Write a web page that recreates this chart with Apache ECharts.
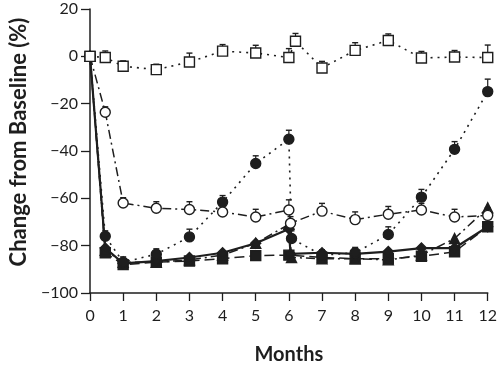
<!DOCTYPE html>
<html><head><meta charset="utf-8">
<script src="https://cdn.jsdelivr.net/npm/echarts@6/dist/echarts.min.js"></script>
<style>html,body{margin:0;padding:0;background:#fff}#c{width:500px;height:370px}</style>
</head><body><div id="c"></div>
<script>
// x positions (months) and values (% change from baseline)
const xOpenSq = [0,0.46,1,2,3,4,5,6,6.2,7,8,9,10,11,12];
const openSquares = [0,-0.5,-4.2,-5.6,-2.4,2.2,1.4,-0.5,6.4,-4.9,2.5,6.7,-0.7,-0.3,-0.5];
const openSquaresErr = [0,1.5,1,1,2.5,1.5,2,2.5,2,1.5,2,1.5,1.5,1.5,4];

const xOpenCi = [0,0.46,1,2,3,4,5,6,6.05,7,8,9,10,11,12];
const openCircles = [0,-23.6,-62,-64.2,-64.7,-65.8,-67.9,-64.9,-70.5,-65.4,-69,-66.7,-64.9,-67.9,-67.2];
const openCirclesErr = [0,1,1,1.5,2,1.5,2,3,1.5,2,2,2,1.5,2,2];

const xFillCi = [0,0.46,1,2,3,4,5,6,6.08,7,8,9,10,11,12];
const filledCircles = [0,-76,-87,-83.6,-76.3,-61.6,-45.3,-35,-77,-84,-83,-75.3,-59.5,-39.3,-14.9];
const filledCirclesErr = [0,1,1,1,2,1.5,2,2.5,2,1,1,2,2,2,4];

const xDiam = [0,0.46,1,2,3,4,5,6,6.05,7,8,9,10,11,12];
const diamonds = [0,-81,-87.5,-86.5,-85,-83,-79,-73,-83.5,-83,-83.5,-82.5,-81,-81,-72];

const xFillSq = [0,0.46,1,2,3,4,5,6,7,8,9,10,11,12];
const filledSquares = [0,-83,-88,-87,-86.5,-85.5,-84.2,-84,-85,-85.5,-85.5,-84.5,-82.6,-72];

const xTri = [0,0.46,1,2,3,4,5,6,6.08,7,8,9,10,11,12];
const triangles = [0,-82,-87,-87,-86,-84,-79,-71,-85,-85.5,-85.5,-86,-84,-77,-64];

const xTicks = [0,1,2,3,4,5,6,7,8,9,10,11,12];
const yTicks = [-100,-80,-60,-40,-20,0,20];

const pair = (xs, ys) => xs.map((x,i)=>[x, ys[i]]);
const INK = '#1e1e1e';
const FONT = 'Lato, "Open Sans", sans-serif';

function lineSeries(xs, ys, symbol, fill, size, dash, width, z) {
  return {
    type: 'line', data: pair(xs, ys), symbol: symbol, symbolSize: size,
    z: z, animation: false,
    lineStyle: { color: INK, width: width, type: dash },
    itemStyle: { color: fill, borderColor: INK, borderWidth: 1.4 },
    emphasis: { disabled: true }
  };
}
function errSeries(xs, ys, errs, half) {
  return {
    type: 'custom', z: 1, animation: false,
    data: xs.map((x,i)=>[x, ys[i], ys[i]+errs[i]]),
    renderItem: function (params, api) {
      const p0 = api.coord([api.value(0), api.value(1)]);
      const p1 = api.coord([api.value(0), api.value(2)]);
      if (api.value(2) === api.value(1)) return;
      const top = p1[1] - 3;
      return { type: 'group', children: [
        { type: 'line', shape: { x1: p0[0], y1: p0[1], x2: p0[0], y2: top }, style: { stroke: INK, lineWidth: 1.2 } },
        { type: 'line', shape: { x1: p0[0]-half, y1: top, x2: p0[0]+half, y2: top }, style: { stroke: INK, lineWidth: 1.4 } }
      ]};
    }
  };
}

const chart = echarts.init(document.getElementById('c'), null, { renderer: 'canvas' });
chart.setOption({
  backgroundColor: '#fff',
  grid: { left: 83, right: 10, top: 9, bottom: 75 },
  xAxis: {
    type: 'value', min: 0, max: 12, interval: 1,
    name: 'Months', nameLocation: 'middle', nameGap: 52,
    nameTextStyle: { fontFamily: FONT, fontSize: 20, fontWeight: 'bold', color: INK },
    axisLine: { show: true, onZero: false, lineStyle: { color: INK, width: 1.5 } },
    axisTick: { show: true, length: 8, lineStyle: { color: INK, width: 1.3 } },
    axisLabel: { margin: 15, fontFamily: FONT, fontSize: 16, color: INK,
      formatter: v => xTicks.includes(v) ? String(v) : '' },
    splitLine: { show: false }
  },
  yAxis: {
    type: 'value', min: -100, max: 20, interval: 20,
    name: 'Change from Baseline (%)', nameLocation: 'middle', nameGap: 60,
    nameTextStyle: { fontFamily: FONT, fontSize: 22, fontWeight: 'bold', color: INK, padding: [0,0,0,18] },
    axisLine: { show: true, onZero: false, lineStyle: { color: INK, width: 1.5 } },
    axisTick: { show: true, length: 9, lineStyle: { color: INK, width: 1.3 } },
    axisLabel: { margin: 12, fontFamily: FONT, fontSize: 16, color: INK,
      formatter: v => yTicks.includes(v) ? String(v).replace('-', '\u2212') : '' },
    splitLine: { show: false }
  },
  series: [
    errSeries(xOpenSq, openSquares, openSquaresErr, 3),
    errSeries(xOpenCi, openCircles, openCirclesErr, 3),
    errSeries(xFillCi, filledCircles, filledCirclesErr, 3),
    lineSeries(xFillSq, filledSquares, 'rect', INK, 10, [10,5], 1.5, 3),
    lineSeries(xTri, triangles, 'triangle', INK, 10, [9,4,2,4], 1.5, 3),
    lineSeries(xDiam, diamonds, 'diamond', INK, 10, 'solid', 2.2, 4),
    lineSeries(xFillCi, filledCircles, 'circle', INK, 10, [2,5], 1.6, 5),
    lineSeries(xOpenCi, openCircles, 'circle', '#fff', 10, [9,4,2,4], 1.5, 6),
    lineSeries(xOpenSq, openSquares, 'rect', '#fff', 10, [2,5], 1.6, 7)
  ]
});
</script></body></html>
